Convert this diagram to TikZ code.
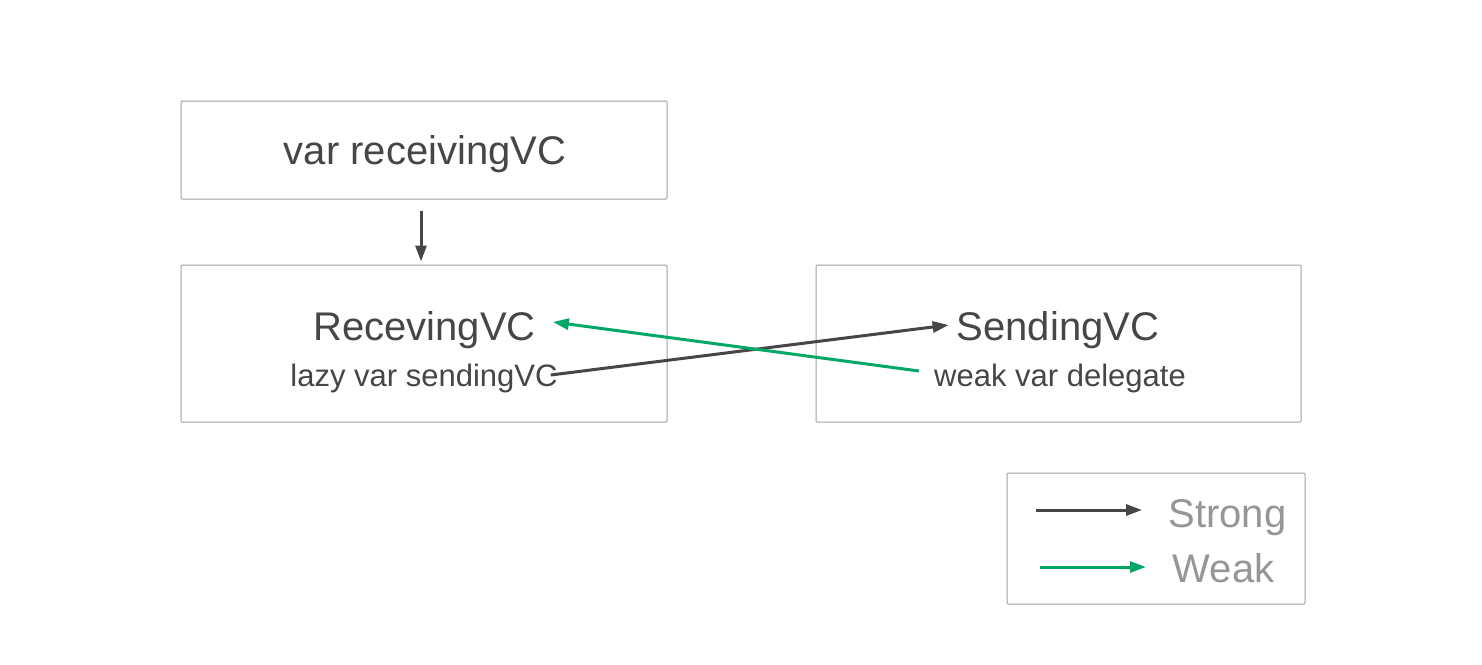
\documentclass[tikz,border=0pt]{standalone}
\usepackage{fontspec}
\setmainfont{Liberation Sans}
\usetikzlibrary{arrows.meta,calc}
\definecolor{txt}{RGB}{70,70,70}
\definecolor{frame}{RGB}{160,160,160}
\definecolor{weakgreen}{RGB}{0,168,104}
\definecolor{legtxt}{RGB}{150,150,150}
\tikzset{
  box/.style={draw=frame, line width=1pt, rounded corners=1pt, inner sep=0pt},
  bigtext/.style={text=txt, anchor=base, inner sep=0pt, font=\fontsize{40}{48}\selectfont},
  smalltext/.style={text=txt, anchor=base, inner sep=0pt, font=\fontsize{31}{37}\selectfont},
  legtext/.style={text=legtxt, anchor=base, inner sep=0pt, font=\fontsize{40}{48}\selectfont},
  strongarrow/.style={draw=txt, line width=3pt, -{Triangle[length=16pt,width=11pt]}},
  weakarrow/.style={draw=weakgreen, line width=3pt, -{Triangle[length=16pt,width=11pt]}}
}
\begin{document}
\begin{tikzpicture}[x=1pt,y=-1pt]
\useasboundingbox[fill=white] (0,0) rectangle (1482,664);
% boxes
\node[box, minimum width=486pt, minimum height=98pt] (b1) at (424,150) {};
\node[box, minimum width=486pt, minimum height=157pt] (b2) at (424,343.5) {};
\node[box, minimum width=485pt, minimum height=157pt] (b3) at (1058.5,343.5) {};
\node[box, minimum width=298pt, minimum height=131pt] (leg) at (1156,538.5) {};
% texts
\node[bigtext] (t1) at (425,164) {var receivingVC};
\node[bigtext] (recv) at (424.5,340) {RecevingVC};
\node[smalltext] (lazy) at (424,386) {lazy var sendingVC};
\node[bigtext] (send) at (1058,340) {SendingVC};
\node[smalltext] (weak) at (1060,386) {weak var delegate};
\node[legtext] (lstrong) at (1227.5,527) {Strong};
\node[legtext] (lweak) at (1223.5,582) {Weak};
% legend arrow ends
\coordinate (s1) at (1036,510);
\coordinate (s2) at (1142,510);
\coordinate (w1) at (1040,567);
\coordinate (w2) at (1146,567);
% connectors
\draw[strongarrow] ($(b1.south)+(-3,11)$) -- ($(b2.north)+(-3,-3)$);
\draw[strongarrow] ($(lazy.base east)+(-7,-11)$) -- ($(send.base west)+(-8,-15)$);
\draw[weakarrow] ($(weak.base west)+(-15,-15)$) -- ($(recv.base east)+(17,-18)$);
\draw[strongarrow] (s1) -- (s2);
\draw[weakarrow] (w1) -- (w2);
\end{tikzpicture}
\end{document}
